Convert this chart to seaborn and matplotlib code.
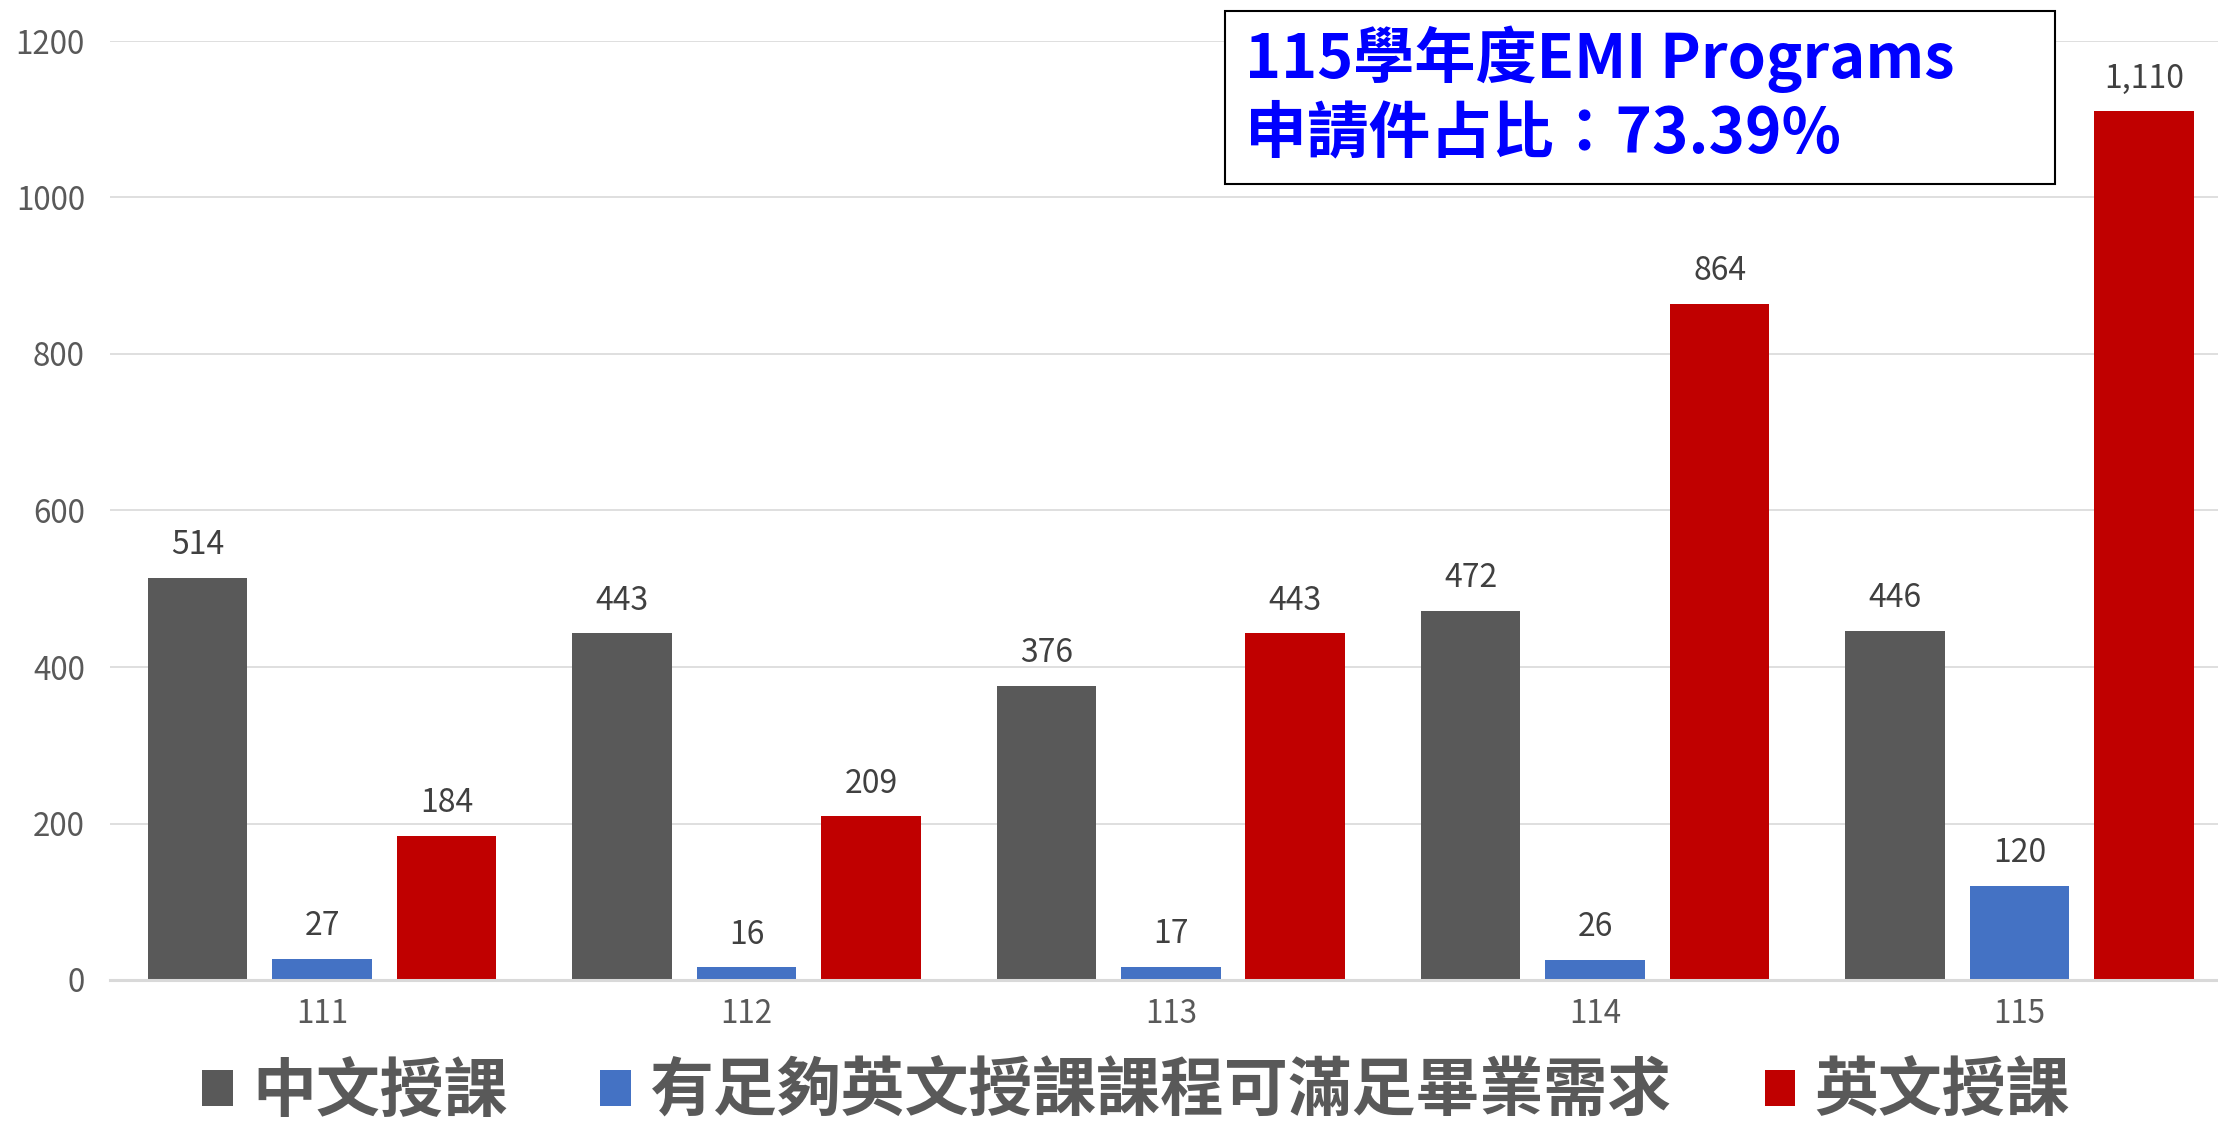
import matplotlib
matplotlib.use("Agg")
import matplotlib.pyplot as plt
import seaborn as sns
import pandas as pd
from matplotlib.patches import Rectangle

years = ["111", "112", "113", "114", "115"]
series_names = ["中文授課", "有足夠英文授課課程可滿足畢業需求", "英文授課"]
chinese = [514, 443, 376, 472, 446]
enough_english = [27, 16, 17, 26, 120]
english = [184, 209, 443, 864, 1110]
colors = ["#595959", "#4472C4", "#C00000"]
y_ticks = [0, 200, 400, 600, 800, 1000, 1200]
box_lines = ["115學年度EMI Programs", "申請件占比：73.39%"]

rows = []
for name, vals in zip(series_names, [chinese, enough_english, english]):
    for y, v in zip(years, vals):
        rows.append({"year": y, "type": name, "count": v})
df = pd.DataFrame(rows)

sns.set_theme(style="white")
plt.rcParams["font.family"] = ["Noto Sans CJK TC", "DejaVu Sans"]

W, H = 2218, 1122
fig = plt.figure(figsize=(W / 100, H / 100), dpi=100)
ax = fig.add_axes([110 / W, (H - 980) / H, (W - 110) / W, (980 - 41) / H])

sns.barplot(data=df, x="year", y="count", hue="type", hue_order=series_names,
            order=years, palette=colors, width=0.88, gap=0.2, saturation=1,
            errorbar=None, ax=ax, edgecolor="none", linewidth=0)

for cont in ax.containers:
    ax.bar_label(cont, labels=[f"{v:,.0f}" for v in cont.datavalues],
                 padding=12, fontsize=23, color="#404040")

ax.set_xlim(-0.5, 4.468)
ax.set_ylim(0, 1200)
ax.set_yticks(y_ticks)
ax.set_yticklabels([str(t) for t in y_ticks])
ax.set_xlabel("")
ax.set_ylabel("")
ax.tick_params(axis="y", length=0, pad=18, labelsize=22.5, labelcolor="#595959")
ax.tick_params(axis="x", length=0, pad=13, labelsize=22.5, labelcolor="#595959")
ax.grid(axis="y", color="#D9D9D9", linewidth=1.2)
ax.grid(axis="x", visible=False)
ax.set_axisbelow(True)
for s in ["top", "right", "left"]:
    ax.spines[s].set_visible(False)
ax.spines["bottom"].set_color("#D9D9D9")
ax.spines["bottom"].set_linewidth(2.2)

handles, labels = ax.get_legend_handles_labels()
ax.get_legend().remove()
leg = fig.legend(handles, labels, loc="center", bbox_to_anchor=(1136 / W, (H - 1092) / H),
                 ncol=3, frameon=False, handlelength=0.48, handleheight=0.48,
                 handletextpad=0.3, columnspacing=1.45, borderpad=0,
                 prop={"size": 46, "weight": "bold"})
for t in leg.get_texts():
    t.set_color("#595959")

rect = Rectangle((1225 / W, (H - 184) / H), 830 / W, 173 / H, transform=fig.transFigure,
                 facecolor="white", edgecolor="black", linewidth=1.5, zorder=5)
fig.patches.append(rect)
fig.text(1245 / W, (H - 59) / H, box_lines[0], color="#0000FF", fontsize=44,
         fontweight="bold", va="center", ha="left", zorder=6)
fig.text(1245 / W, (H - 134) / H, box_lines[1], color="#0000FF", fontsize=44.5,
         fontweight="bold", va="center", ha="left", zorder=6)

fig.savefig("out.png", dpi=100)
